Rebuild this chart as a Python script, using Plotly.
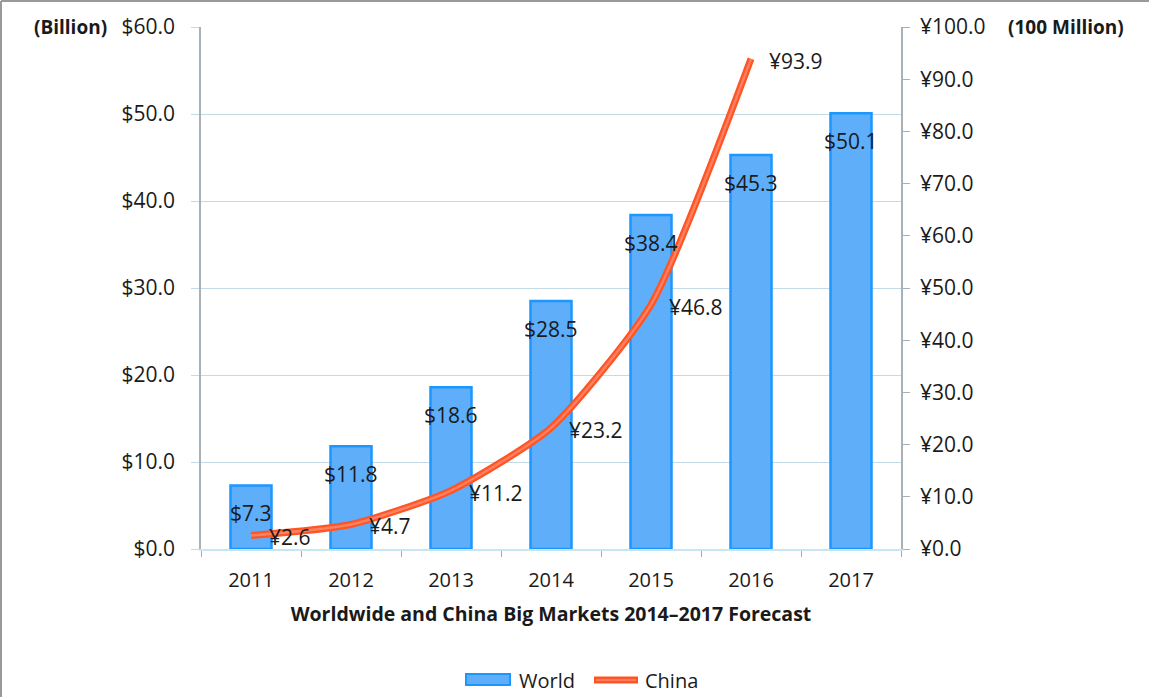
import plotly.graph_objects as go

years = ["2011", "2012", "2013", "2014", "2015", "2016", "2017"]
world = [7.3, 11.8, 18.6, 28.5, 38.4, 45.3, 50.1]
china_years = ["2011", "2012", "2013", "2014", "2015", "2016"]
china = [2.6, 4.7, 11.2, 23.2, 46.8, 93.9]

left_ticks = [0, 10, 20, 30, 40, 50, 60]
left_labels = ["$%.1f" % v for v in left_ticks]
right_ticks = [0, 10, 20, 30, 40, 50, 60, 70, 80, 90, 100]
right_labels = ["¥%.1f" % v for v in right_ticks]

FONT = "Open Sans"
TXT = "#1a1a1a"
BAR_FILL = "#5eaefa"
BAR_EDGE = "#1c97ff"
LINE_OUT = "#ff5424"
LINE_IN = "#ff8060"

fig = go.Figure()
fig.add_trace(go.Bar(
    x=years, y=world, name="World", showlegend=False,
    marker=dict(color=BAR_FILL, line=dict(color=BAR_EDGE, width=2.5)),
    yaxis="y",
))
fig.add_trace(go.Scatter(
    x=china_years, y=china, name="China", mode="lines", showlegend=False,
    line=dict(color=LINE_OUT, width=7, shape="spline", smoothing=0.6),
    yaxis="y2",
))
fig.add_trace(go.Scatter(
    x=china_years, y=china, mode="lines", showlegend=False, hoverinfo="skip",
    line=dict(color=LINE_IN, width=2.5, shape="spline", smoothing=0.6),
    yaxis="y2",
))

annotations = []
for i, v in enumerate(world):
    annotations.append(dict(x=i, y=v, xref="x", yref="y", text="$%.1f" % v,
                            showarrow=False, yshift=-28,
                            font=dict(family=FONT, size=21, color=TXT)))
for i, v in enumerate(china):
    annotations.append(dict(x=i, y=v, xref="x", yref="y2", text="¥%.1f" % v,
                            showarrow=False, xanchor="left", xshift=16, yshift=-2,
                            font=dict(family=FONT, size=21, color=TXT)))
annotations.append(dict(x=-0.186, y=1.0, xref="paper", yref="paper", text="<b>(Billion)</b>",
                        showarrow=False, xanchor="center", yanchor="middle",
                        font=dict(family=FONT, size=19, color=TXT)))
annotations.append(dict(x=1.236, y=1.0, xref="paper", yref="paper", text="<b>(100 Million)</b>",
                        showarrow=False, xanchor="center", yanchor="middle",
                        font=dict(family=FONT, size=19, color=TXT)))
# legend texts
annotations.append(dict(x=(517 - 201) / 700, y=(549 - 680) / 522, xref="paper", yref="paper",
                        text="World", showarrow=False, xanchor="left", yanchor="middle",
                        font=dict(family=FONT, size=20, color=TXT)))
annotations.append(dict(x=(643 - 201) / 700, y=(549 - 680) / 522, xref="paper", yref="paper",
                        text="China", showarrow=False, xanchor="left", yanchor="middle",
                        font=dict(family=FONT, size=20, color=TXT)))

def px(x):
    return (x - 201) / 700

def py(y):
    return (549 - y) / 522

shapes = [
    dict(type="line", xref="paper", yref="paper", x0=px(1), x1=px(1), y0=py(700), y1=py(1),
         line=dict(color="#9a9a9a", width=2)),
    dict(type="line", xref="paper", yref="paper", x0=px(1), x1=px(1149), y0=py(1), y1=py(1),
         line=dict(color="#9a9a9a", width=2)),
    dict(type="rect", xref="paper", yref="paper", x0=px(466), x1=px(510), y0=py(685), y1=py(674),
         fillcolor=BAR_FILL, line=dict(color=BAR_EDGE, width=2)),
    dict(type="line", xref="paper", yref="paper", x0=px(594), x1=px(638), y0=py(680), y1=py(680),
         line=dict(color=LINE_OUT, width=7)),
    dict(type="line", xref="paper", yref="paper", x0=px(596), x1=px(636), y0=py(680), y1=py(680),
         line=dict(color=LINE_IN, width=2)),
]

fig.update_layout(
    width=1149, height=697,
    margin=dict(l=201, r=248, t=27, b=148, autoexpand=False),
    paper_bgcolor="white", plot_bgcolor="white",
    bargap=0.59,
    showlegend=False,
    font=dict(family=FONT, size=20, color=TXT),
    xaxis=dict(
        type="category", range=[-0.5, 6.5], showline=True, linecolor="#c5e6f2", linewidth=1.5,
        ticks="outside", tickcolor="#a0a8b0", ticklen=6, tickson="boundaries",
        tickfont=dict(size=20), showgrid=False, tickangle=0, ticklabelstandoff=12,
        title=dict(text="<b>Worldwide and China Big Markets 2014\u20132017 Forecast</b>",
                   font=dict(size=19.5), standoff=16),
    ),
    yaxis=dict(
        range=[0, 60], tickvals=left_ticks, ticktext=left_labels,
        showgrid=True, gridcolor="#c3dbe6", gridwidth=1,
        showline=True, linecolor="#a8b0b8", linewidth=1.5,
        ticks="outside", tickcolor="#c3dbe6", ticklen=8, ticklabelstandoff=12,
        tickfont=dict(size=21), zeroline=False,
    ),
    yaxis2=dict(
        range=[0, 100], tickvals=right_ticks, ticktext=right_labels,
        overlaying="y", side="right", showgrid=False,
        showline=True, linecolor="#a8b0b8", linewidth=1.5,
        ticks="outside", tickcolor="#a8b0b8", ticklen=7, ticklabelstandoff=6,
        tickfont=dict(size=21), zeroline=False,
    ),
    annotations=annotations,
    shapes=shapes,
)

fig.write_html("out.html")
